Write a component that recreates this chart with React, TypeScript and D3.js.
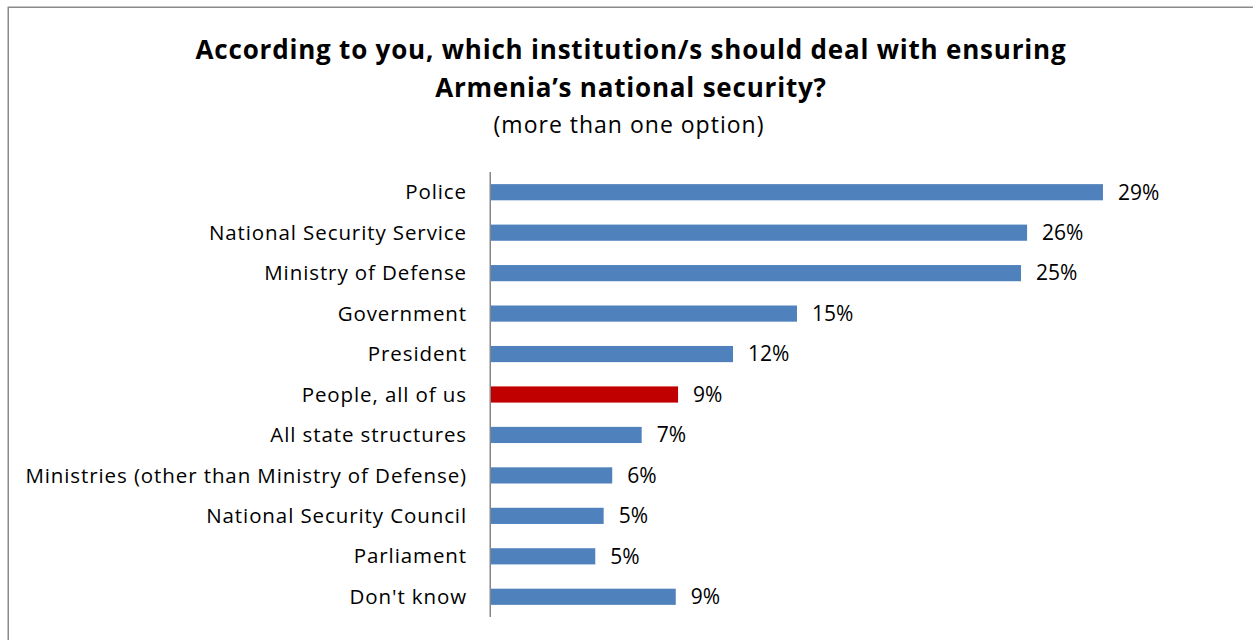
import React from "react";
import * as d3 from "d3";

const categories = [
  "Police",
  "National Security Service",
  "Ministry of Defense",
  "Government",
  "President",
  "People, all of us",
  "All state structures",
  "Ministries (other than Ministry of Defense)",
  "National Security Council",
  "Parliament",
  "Don't know",
];
const values = [29.28, 25.65, 25.36, 14.64, 11.58, 8.95, 7.21, 5.8, 5.39, 4.99, 8.84];
const highlighted = ["People, all of us"];
const titleLines = [
  "According to you, which institution/s should deal with ensuring",
  "Armenia\u2019s national security?",
];
const subtitle = "(more than one option)";

const W = 1253;
const H = 640;
const FONT = "'Open Sans', sans-serif";

export default function App() {
  const x = d3.scaleLinear().domain([0, 35]).range([491, 491 + 35 * 20.9]);
  const y = d3.scaleBand<string>().domain(categories).range([172, 617]).paddingInner(0.6).paddingOuter(0.3);
  const fmt = (v: number) => `${Math.round(v)}%`;
  return (
    <svg width={W} height={H} style={{ position: "absolute", left: 0, top: 0 }} fontFamily={FONT}>
      <rect x={0} y={0} width={W} height={H} fill="#fff" />
      <rect x={8.25} y={7.25} width={W + 10} height={H + 10} fill="none" stroke="#8a8a8a" strokeWidth={1.5} />
      <text x={631} y={59} textAnchor="middle" fontSize={26} fontWeight={700} letterSpacing={0.8} fill="#000">
        {titleLines[0]}
      </text>
      <text x={631} y={97} textAnchor="middle" fontSize={26} fontWeight={700} letterSpacing={0.8} fill="#000">
        {titleLines[1]}
      </text>
      <text x={629} y={133} textAnchor="middle" fontSize={23} letterSpacing={1} fill="#000">
        {subtitle}
      </text>
      {categories.map((c, i) => (
        <g key={c}>
          <rect
            x={x(0)}
            y={y(c)!}
            width={x(values[i]) - x(0)}
            height={y.bandwidth()}
            fill={highlighted.includes(c) ? "#C00000" : "#4F81BD"}
          />
          <text
            x={467}
            y={y(c)! + y.bandwidth() / 2}
            dy="0.35em"
            textAnchor="end"
            fontSize={20.5}
            letterSpacing={0.9}
            fill="#000"
          >
            {c}
          </text>
          <text x={x(values[i]) + 15} y={y(c)! + y.bandwidth() / 2} dy="0.35em" fontSize={21} fill="#000">
            {fmt(values[i])}
          </text>
        </g>
      ))}
      <line x1={490.25} x2={490.25} y1={172} y2={617} stroke="#868686" strokeWidth={1.5} />
    </svg>
  );
}
